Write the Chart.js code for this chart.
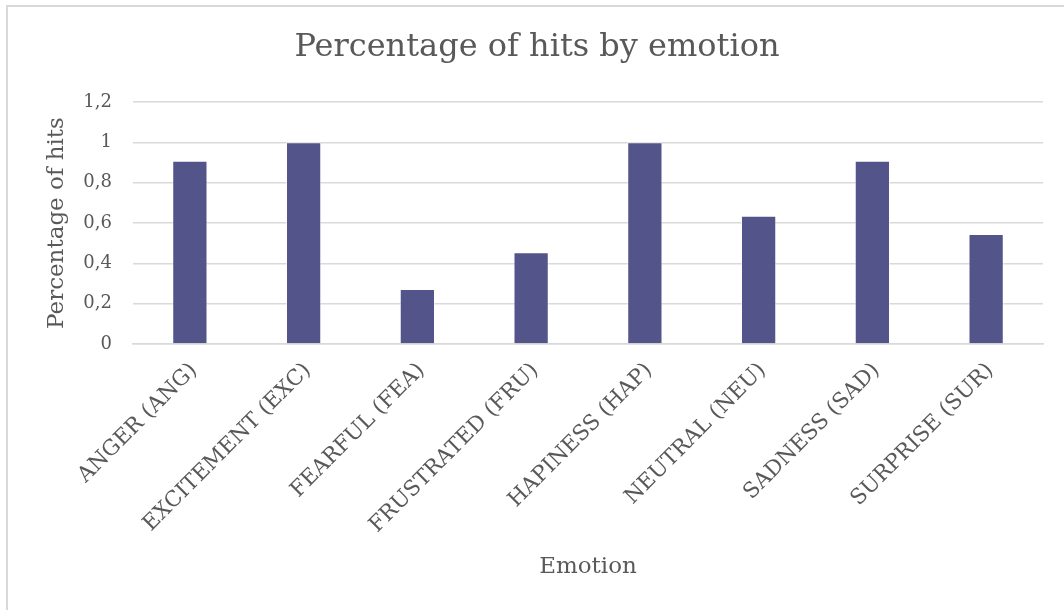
<!DOCTYPE html>
<html>
<head>
<meta charset="utf-8">
<script src="https://cdn.jsdelivr.net/npm/chart.js@4/dist/chart.umd.min.js"></script>
<style>
  html, body { margin: 0; padding: 0; background: #fff; overflow: hidden; }
  canvas { display: block; }
</style>
</head>
<body>
<canvas id="hits-chart" width="1064" height="610"></canvas>
<script>
// Emotion categories and share of hits per category
const emotions = [
  'ANGER (ANG)', 'EXCITEMENT (EXC)', 'FEARFUL (FEA)', 'FRUSTRATED (FRU)',
  'HAPINESS (HAP)', 'NEUTRAL (NEU)', 'SADNESS (SAD)', 'SURPRISE (SUR)'
];
const hitRates = [0.9091, 1, 0.2727, 0.4545, 1, 0.6364, 0.9091, 0.5455];
const yTicks = [0, 0.2, 0.4, 0.6, 0.8, 1, 1.2];

const TEXT_COLOR = '#595959';
const GRID_COLOR = '#d9d9d9';
const BAR_COLOR = '#53548a';
const FONT = '"DejaVu Serif", "Liberation Serif", serif';

// Chart frame: only the top and left edges fall inside the canvas
const framePlugin = {
  id: 'frame',
  beforeDraw(chart) {
    const c = chart.ctx;
    c.save();
    c.strokeStyle = GRID_COLOR;
    c.lineWidth = 2;
    c.beginPath();
    c.moveTo(7, chart.height);
    c.lineTo(7, 6);
    c.lineTo(chart.width, 6);
    c.stroke();
    c.restore();
  }
};

const ctx = document.getElementById('hits-chart');

new Chart(ctx, {
  type: 'bar',
  data: {
    labels: emotions,
    datasets: [{
      label: 'Percentage of hits',
      data: hitRates,
      backgroundColor: BAR_COLOR,
      borderColor: 'rgba(255,255,255,0.55)',
      borderWidth: { top: 1, left: 1, right: 1, bottom: 0 },
      barPercentage: 0.31,
      categoryPercentage: 1
    }]
  },
  plugins: [framePlugin],
  options: {
    responsive: false,
    devicePixelRatio: 1,
    animation: false,
    layout: { padding: { left: 31, right: 21, top: 0, bottom: 0 } },
    plugins: {
      legend: { display: false },
      tooltip: { enabled: false },
      title: {
        display: true,
        text: 'Percentage of hits by emotion',
        color: TEXT_COLOR,
        font: { family: FONT, size: 32, weight: 'normal' },
        padding: { top: 28, bottom: 35.6 }
      }
    },
    scales: {
      x: {
        grid: { display: false, drawTicks: false },
        border: { display: true, color: GRID_COLOR, width: 1.5 },
        ticks: {
          color: TEXT_COLOR,
          font: { family: FONT, size: 21.5 },
          minRotation: 45,
          maxRotation: 45,
          padding: 14,
          labelOffset: 4,
          autoSkip: false
        },
        title: {
          display: true,
          text: 'Emotion',
          color: TEXT_COLOR,
          font: { family: FONT, size: 23 },
          padding: { top: 0, bottom: 29 }
        },
        afterFit: (scale) => { scale.height = 610 - 344; }
      },
      y: {
        min: 0,
        max: 1.2,
        afterBuildTicks: (scale) => { scale.ticks = yTicks.map(v => ({ value: v })); },
        grid: { color: GRID_COLOR, lineWidth: 1.5, drawTicks: false },
        border: { display: false },
        ticks: {
          color: TEXT_COLOR,
          font: { family: FONT, size: 18 },
          padding: 21,
          callback: (v) => String(Math.round(v * 10) / 10).replace('.', ',')
        },
        title: {
          display: true,
          text: 'Percentage of hits',
          color: TEXT_COLOR,
          font: { family: FONT, size: 23 },
          padding: { top: 12, bottom: 0 }
        },
        afterFit: (scale) => { scale.width = 102; }
      }
    }
  }
});
</script>
</body>
</html>
